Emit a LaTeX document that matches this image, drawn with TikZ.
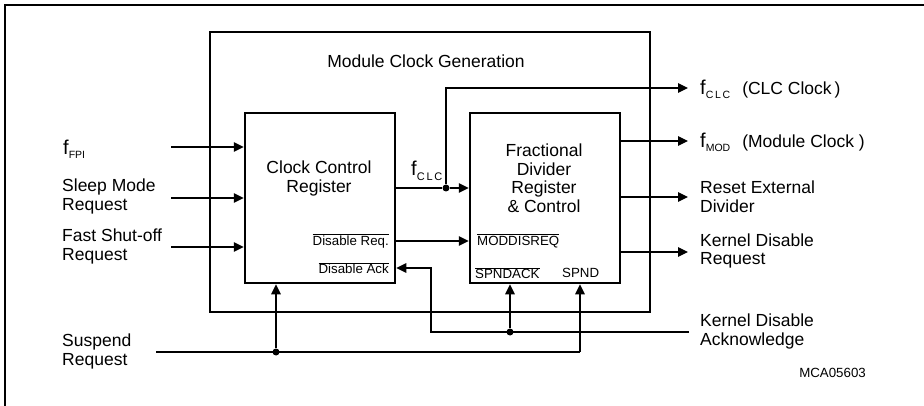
\documentclass[tikz,border=0pt]{standalone}
\usepackage{fontspec}
\setmainfont{Liberation Sans}
\usetikzlibrary{arrows.meta, positioning, calc}

\newcommand{\ovl}[1]{$\overline{\mbox{#1}}$}
\newcommand{\fsig}[1]{{\fontsize{20}{20}\selectfont f}\raisebox{-4pt}{\fontsize{10.5}{11}\selectfont #1}}

\begin{document}
\begin{tikzpicture}[
    x=1pt, y=-1pt,
    block/.style={draw, line width=2.5pt, inner sep=0pt},
    sig/.style={line width=1.2pt, -{Triangle[length=10pt,width=9.5pt]}},
    wire/.style={line width=1.2pt},
    txt/.style={font=\fontsize{17.5}{18.5}\selectfont, inner sep=0pt, align=left},
    port/.style={font=\fontsize{13.3}{14}\selectfont, inner sep=0pt},
    dot/.style={circle, fill, inner sep=0pt, minimum size=7pt}
]
\useasboundingbox (0,0) rectangle (924,406);

% Frame
\draw[line width=1.5pt] (5,406) -- (5,5) -- (924,5);

% Blocks
\node[block, minimum width=440pt, minimum height=280pt] (mcg) at (430,172) {};
\node[block, minimum width=150pt, minimum height=170pt] (ccr) at (320,198) {};
\node[block, minimum width=150pt, minimum height=170pt] (fdr) at (545,198) {};

\node[txt] (mcgtext) at (426,61) {Module Clock Generation};
\node[txt, align=center] (ccrtext) at (319,178.5) {Clock Control\\Register};
\node[txt, align=center] (fdrtext) at (544,178) {Fractional\\Divider\\Register\\\& Control};

% Ports
\node[port, anchor=east] (disreq) at (389,241) {\ovl{Disable Req.}};
\node[port, anchor=east] (disack) at (389,268) {\ovl{Disable Ack}};
\node[port, anchor=west] (moddisreq) at (477,241) {\ovl{MODDISREQ}};
\node[port, anchor=west] (spndack) at (475,273) {\ovl{SPNDACK}};
\node[port, anchor=west] (spnd) at (562,273) {SPND};
\node[txt, anchor=west] (fclc) at (411,171) {{\fontsize{20}{20}\selectfont f}\raisebox{-5pt}{\fontsize{11}{11}\selectfont C\,L\,C}};

% Inputs
\node[txt, anchor=west] (fpi) at (63,149) {\fsig{FPI}};
\node[txt, anchor=west] (sleep) at (62,196.5) {Sleep Mode\\Request};
\node[txt, anchor=west] (fast) at (62,246.5) {Fast Shut-off\\Request};
\node[txt, anchor=west] (susp) at (62,351.5) {Suspend\\Request};

\coordinate (fpiin) at (171,147);
\coordinate (sleepin) at (171,198);
\coordinate (fastin) at (171,247);
\coordinate (suspin) at (156,352);

\draw[sig] (fpiin) -- (fpiin -| ccr.west);
\draw[sig] (sleepin) -- (sleepin -| ccr.west);
\draw[sig] (fastin) -- (fastin -| ccr.west);

% Outputs
\node[txt, anchor=west] (clcout) at (700,89) {\fsig{C\,L\,C}\hspace{12pt}(CLC Clock\,)};
\node[txt, anchor=west] (modout) at (700,142) {\fsig{MOD}\hspace{12pt}(Module Clock )};
\node[txt, anchor=west] (reset) at (700,196.5) {Reset External\\Divider};
\node[txt, anchor=west] (kdreq) at (700,251) {Kernel Disable\\Request};
\node[txt, anchor=west] (kdack) at (700,331.5) {Kernel Disable\\Acknowledge};

\coordinate (clctip) at (688,88);
\coordinate (modtip) at (688,141);
\coordinate (resettip) at (688,197);
\coordinate (kdreqtip) at (688,252);
\coordinate (ackin) at (689,332);

% Clock path
\node[dot] (clkdot) at (446,188) {};
\draw[wire] (clkdot -| ccr.east) -- (clkdot);
\draw[sig] (clkdot) -- (clkdot -| fdr.west);
\draw[sig] (clkdot) |- (clctip);

\draw[sig] (fdr.east |- modtip) -- (modtip);
\draw[sig] (fdr.east |- resettip) -- (resettip);
\draw[sig] (fdr.east |- kdreqtip) -- (kdreqtip);

% Disable handshake
\draw[sig] (disreq.east -| ccr.east) -- (moddisreq.west -| fdr.west);
\node[dot] (ackdot) at (510,332) {};
\coordinate (ackbend) at (431,332);
\draw[sig] (ackin) -- (ackdot.center) -- (ackbend) |- (ccr.east |- disack);
\draw[sig] (ackdot) -- (ackdot |- fdr.south);

% Suspend
\node[dot] (suspdot) at (276,352) {};
\coordinate (spndbend) at (580,352);
\draw[wire] (suspin) -- (spndbend);
\draw[sig] (spndbend) -- (spndbend |- fdr.south);
\draw[sig] (suspdot) -- (suspdot |- ccr.south);

\node[port, anchor=east] (code) at (866,373) {MCA05603};

\end{tikzpicture}
\end{document}
